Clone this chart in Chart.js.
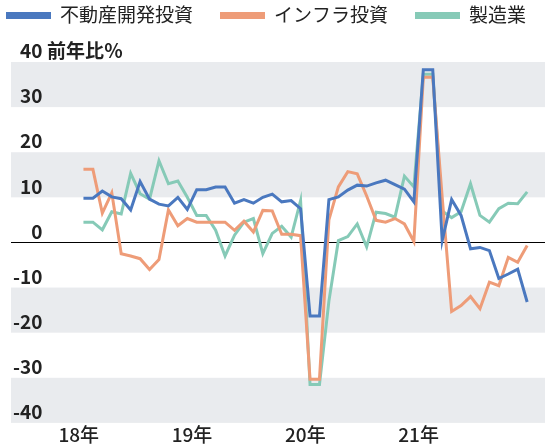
<!DOCTYPE html>
<html>
<head>
<meta charset="utf-8">
<script src="https://cdn.jsdelivr.net/npm/chart.js@4"></script>
<style>
  html, body { margin: 0; padding: 0; background: #fff; }
  #wrap { width: 550px; height: 446px; }
</style>
</head>
<body>
<div id="wrap"><canvas id="myChart"></canvas></div>
<script>
// 月次 2018年1月〜2021年12月 (1・2月は同値)
const yearLabels = ['18年', '19年', '20年', '21年']
const seriesNames = ['不動産開発投資', 'インフラ投資', '製造業']

const realEstate = [
    9.8, 9.8, 11.4, 10.1, 9.7, 7.2, 13.5, 9.6, 8.5, 8.1, 10.0, 7.3,
    11.7, 11.7, 12.3, 12.3, 8.7, 9.5, 8.7, 10.0, 10.7, 9.0, 9.3, 7.5,
    -16.3, -16.3, 9.5, 10.1, 11.6, 12.7, 12.5, 13.2, 13.8, 12.8, 11.8, 9.0,
    38.3, 38.3, 0.4, 9.5, 6.0, -1.4, -1.1, -1.8, -8.0, -7.0, -5.9, -13.2
]
const infra = [
    16.2, 16.2, 6.5, 11.0, -2.5, -3.0, -3.6, -6.0, -3.8, 7.2, 3.7, 5.3,
    4.5, 4.5, 4.5, 4.5, 2.7, 4.7, 2.3, 7.1, 7.0, 1.8, 1.8, 1.5,
    -30.3, -30.3, 5.0, 12.3, 15.7, 15.2, 10.3, 4.9, 4.5, 5.3, 4.1, 0.2,
    36.6, 36.6, 10.0, -15.3, -14.0, -12.0, -14.7, -8.8, -9.6, -3.3, -4.4, -0.7
]
const manufacturing = [
    4.5, 4.5, 2.8, 6.8, 6.3, 15.3, 10.8, 9.6, 18.1, 13.0, 13.6, 10.0,
    6.0, 6.0, 2.7, -3.0, 1.6, 4.5, 5.3, -2.5, 2.0, 3.6, 1.2, 9.3,
    -31.5, -31.5, -13.0, 0.4, 1.3, 4.1, -1.0, 6.7, 6.4, 5.6, 14.7, 12.3,
    37.3, 37.3, 7.0, 5.5, 6.8, 13.0, 6.0, 4.5, 7.5, 8.7, 8.6, 11.2
]
const yTicks = [-40, -30, -20, -10, 0, 10, 20, 30, 40]
const bandRanges = [[30, 40], [10, 20], [-20, -10], [-40, -30]]
const unitLabel = '前年比％'

const colores = ['#4a78bf', '#ee9c78', '#86cab7']
const fuente = '"Noto Sans CJK JP", "Noto Sans", sans-serif'

function puntos(valores){
    return valores.map((v, i) => ({x: i, y: v}))
}

const bandas = {
    id: 'bandas',
    beforeDraw(chart){
        const {ctx, chartArea, scales} = chart
        ctx.save()
        ctx.fillStyle = '#e9ebee'
        for (let [a, b] of bandRanges) {
            let y1 = scales.y.getPixelForValue(b)
            let y2 = scales.y.getPixelForValue(a)
            ctx.fillRect(chartArea.left, y1, chartArea.right - chartArea.left, y2 - y1)
        }
        ctx.restore()
    },
    afterDraw(chart){
        const {ctx, scales} = chart
        ctx.save()
        // unidad junto al 40
        ctx.font = 'bold 19px ' + fuente
        ctx.fillStyle = '#222'
        ctx.textBaseline = 'middle'
        ctx.textAlign = 'left'
        ctx.fillText(unitLabel, 47, scales.y.getPixelForValue(40) - 11)

        // leyenda
        ctx.font = '19px ' + fuente
        let x = 6
        chart.data.datasets.forEach((ds, i) => {
            ctx.fillStyle = colores[i]
            ctx.fillRect(x, 12, 45, 7)
            x += 45 + 9
            ctx.fillStyle = '#222'
            ctx.fillText(ds.label, x, 15)
            x += ctx.measureText(ds.label).width + 27
        })
        ctx.restore()
    }
}

let datasets = [realEstate, infra, manufacturing].map((serie, i) => ({
    label: seriesNames[i],
    data: puntos(serie),
    borderColor: colores[i],
    backgroundColor: colores[i],
    borderWidth: 3,
    pointRadius: 0,
    tension: 0,
    fill: false
}))

let config = {
    type: 'line',
    data: { datasets },
    plugins: [bandas],
    options: {
        responsive: true,
        maintainAspectRatio: false,
        animation: false,
        layout: { padding: { top: 62, left: 7, right: 5, bottom: 0 } },
        plugins: {
            legend: { display: false },
            tooltip: { enabled: false }
        },
        scales: {
            x: {
                type: 'linear',
                min: -7.675,
                max: 48.89,
                border: { display: false },
                grid: { display: false, drawTicks: false },
                afterBuildTicks: axis => {
                    axis.ticks = yearLabels.map((t, k) => ({value: k * 12 - 0.5}))
                },
                ticks: {
                    autoSkip: false,
                    maxRotation: 0,
                    padding: 3,
                    color: '#222',
                    font: { family: fuente, size: 19, weight: '500', lineHeight: 0.9 },
                    callback: (v) => yearLabels[Math.round((v + 0.5) / 12)]
                }
            },
            y: {
                min: -40,
                max: 40,
                border: { display: false },
                grid: {
                    drawTicks: false,
                    color: ctx => ctx.tick && ctx.tick.value === 0 ? '#000' : 'rgba(0,0,0,0)',
                    lineWidth: 1
                },
                afterBuildTicks: axis => {
                    axis.ticks = yTicks.map(v => ({value: v}))
                },
                ticks: {
                    mirror: true,
                    crossAlign: 'far',
                    padding: 2,
                    labelOffset: -11,
                    color: '#222',
                    font: { family: fuente, size: 19, weight: 'bold' },
                    callback: v => String(v)
                }
            }
        }
    }
}

let myChart = new Chart(document.getElementById('myChart'), config)
</script>
</body>
</html>
